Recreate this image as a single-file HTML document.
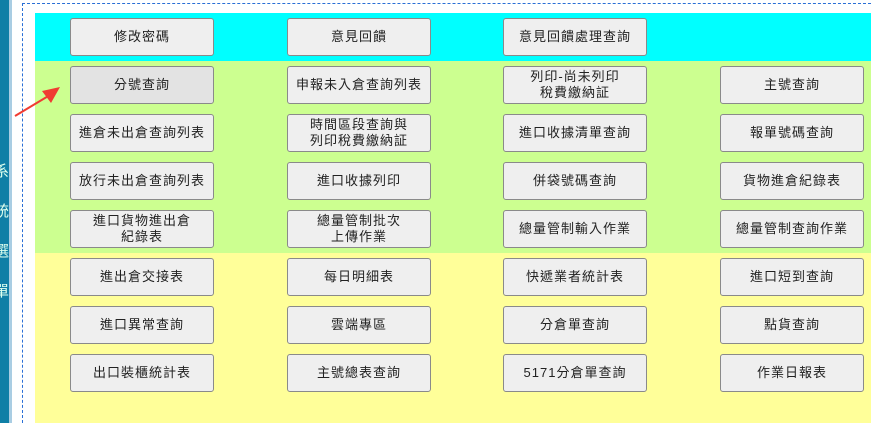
<!DOCTYPE html><html><head><meta charset="utf-8"><style>
body{margin:0;width:871px;height:423px;overflow:hidden;background:#fff;position:relative;font-family:"Liberation Sans","Noto Sans CJK TC",sans-serif}
.sb{position:absolute;left:0;top:0;width:9px;height:423px;background:#0f7fa6;overflow:hidden}
.sb2{position:absolute;left:9px;top:0;width:3px;height:423px;background:#a9cde3}
.sb span{position:absolute;left:-6px;color:#dfe;font-size:15px}
.dl{position:absolute;left:22px;top:3px;width:0;height:420px;border-left:1px dashed #2a6fd6}
.dt{position:absolute;left:22px;top:3px;width:849px;border-top:1px dashed #2a6fd6}
.band{position:absolute;left:35px;width:836px}
.b{position:absolute;width:142px;height:36px;border:1px solid #8a8a8a;border-radius:3px;background:#efefef;font-size:13px;letter-spacing:1px;color:#222;display:flex;align-items:center;justify-content:center;text-align:center;line-height:16px;box-sizing:content-box}
</style></head><body>
<div class="sb"><span style="top:160px">系</span><span style="top:200px">統</span><span style="top:240px">選</span><span style="top:280px">單</span></div>
<div class="sb2"></div>
<div class="dt"></div><div class="dl"></div>
<div class="band" style="top:13px;height:48px;background:#00ffff"></div>
<div class="band" style="top:61px;height:192px;background:#ccff90"></div>
<div class="band" style="top:253px;height:170px;background:#ffff99"></div>
<svg style="position:absolute;left:0;top:0" width="871" height="423"><line x1="15" y1="116" x2="50" y2="95" stroke="#f03c32" stroke-width="2"/><polygon points="60,87 42,91 51,103" fill="#f03c32"/></svg>
<div class="b" style="left:70px;top:18px">修改密碼</div>
<div class="b" style="left:287px;top:18px">意見回饋</div>
<div class="b" style="left:503px;top:18px">意見回饋處理查詢</div>

<div class="b" style="left:70px;top:66px;background:#e3e3e3">分號查詢</div>
<div class="b" style="left:287px;top:66px">申報未入倉查詢列表</div>
<div class="b" style="left:503px;top:66px">列印-尚未列印<br>稅費繳納証</div>
<div class="b" style="left:720px;top:66px">主號查詢</div>

<div class="b" style="left:70px;top:114px">進倉未出倉查詢列表</div>
<div class="b" style="left:287px;top:114px">時間區段查詢與<br>列印稅費繳納証</div>
<div class="b" style="left:503px;top:114px">進口收據清單查詢</div>
<div class="b" style="left:720px;top:114px">報單號碼查詢</div>

<div class="b" style="left:70px;top:162px">放行未出倉查詢列表</div>
<div class="b" style="left:287px;top:162px">進口收據列印</div>
<div class="b" style="left:503px;top:162px">併袋號碼查詢</div>
<div class="b" style="left:720px;top:162px">貨物進倉紀錄表</div>

<div class="b" style="left:70px;top:210px">進口貨物進出倉<br>紀錄表</div>
<div class="b" style="left:287px;top:210px">總量管制批次<br>上傳作業</div>
<div class="b" style="left:503px;top:210px">總量管制輸入作業</div>
<div class="b" style="left:720px;top:210px">總量管制查詢作業</div>

<div class="b" style="left:70px;top:258px">進出倉交接表</div>
<div class="b" style="left:287px;top:258px">每日明細表</div>
<div class="b" style="left:503px;top:258px">快遞業者統計表</div>
<div class="b" style="left:720px;top:258px">進口短到查詢</div>

<div class="b" style="left:70px;top:306px">進口異常查詢</div>
<div class="b" style="left:287px;top:306px">雲端專區</div>
<div class="b" style="left:503px;top:306px">分倉單查詢</div>
<div class="b" style="left:720px;top:306px">點貨查詢</div>

<div class="b" style="left:70px;top:354px">出口裝櫃統計表</div>
<div class="b" style="left:287px;top:354px">主號總表查詢</div>
<div class="b" style="left:503px;top:354px">5171分倉單查詢</div>
<div class="b" style="left:720px;top:354px">作業日報表</div>
</body></html>
